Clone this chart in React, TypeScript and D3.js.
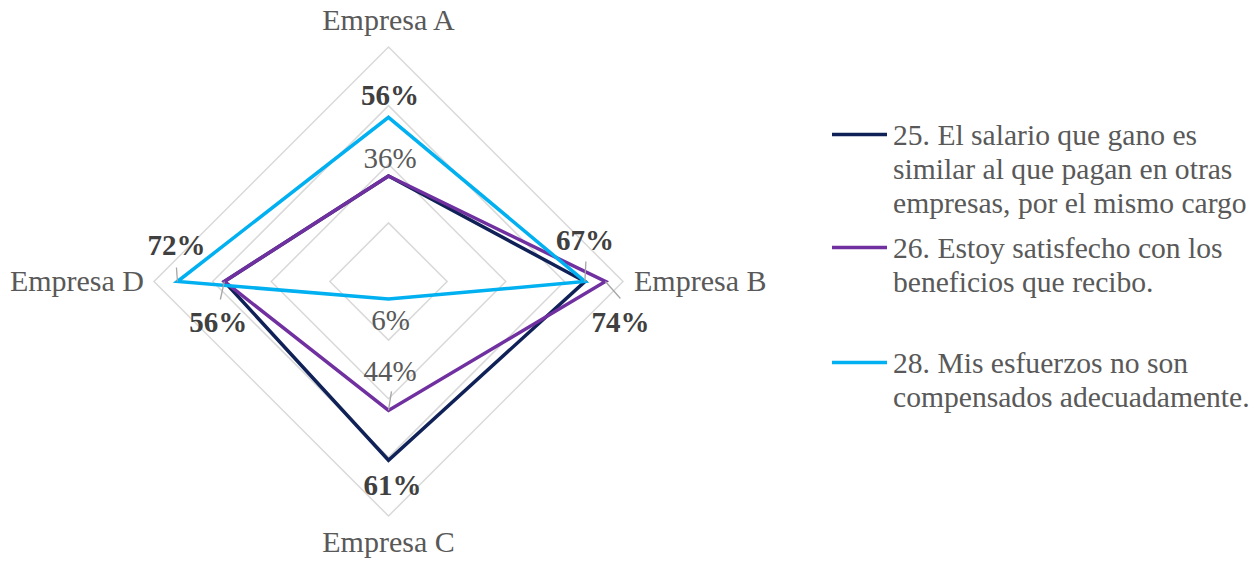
import React from "react";
import * as d3 from "d3";

// Axes of the radar, clockwise from the top
const categories = ["Empresa A", "Empresa B", "Empresa C", "Empresa D"];

// Series names (legend lines) and their values per company
const seriesNames = [
  ["25. El salario que gano es", "similar al que pagan en otras", "empresas, por el mismo cargo"],
  ["26. Estoy satisfecho con los", "beneficios que recibo."],
  ["28. Mis esfuerzos no son", "compensados adecuadamente."],
];
const salario = [0.36, 0.67, 0.61, 0.56];
const beneficios = [0.36, 0.74, 0.44, 0.56];
const esfuerzos = [0.56, 0.67, 0.06, 0.72];

const gridTicks = [0.2, 0.4, 0.6, 0.8];

// Which values carry a data label: [series, axis, bold]
const labelled: [number, number, boolean][] = [
  [0, 0, false],
  [0, 1, true],
  [0, 2, true],
  [0, 3, true],
  [1, 1, true],
  [1, 2, false],
  [2, 0, true],
  [2, 2, false],
  [2, 3, true],
];

// Placement of each label relative to its point: text offset and optional leader end
const labelPlacement: { dx: number; dy: number; leader?: [number, number] }[] = [
  { dx: 1.5, dy: -8 },
  { dx: 0, dy: -31.5, leader: [1, -20] },
  { dx: 4, dy: 35 },
  { dx: -6, dy: 50, leader: [-4, 18] },
  { dx: 15, dy: 50, leader: [15, 17] },
  { dx: 1.5, dy: -29, leader: [3, -19] },
  { dx: 1.5, dy: -12 },
  { dx: 2, dy: 31 },
  { dx: -1, dy: -26.5, leader: [-1, -14] },
];

const colors = ["#0f2157", "#7030a0", "#00b0f0"];

const W = 1258;
const H = 562;
const cx = 388.5;
const cy = 281.5;
const R = 234.5;
const FONT = "'Liberation Serif', 'Times New Roman', serif";

export default function App() {
  const series = [salario, beneficios, esfuerzos];
  const r = d3.scaleLinear().domain([0, 0.8]).range([0, R]);
  const angle = d3
    .scalePoint<string>()
    .domain(categories)
    .range([0, 2 * Math.PI * (categories.length - 1) / categories.length]);

  const radial = d3
    .lineRadial<number>()
    .angle((_, i) => angle(categories[i]) as number)
    .radius((d) => r(d))
    .curve(d3.curveLinearClosed);

  const pt = (v: number, i: number): [number, number] => {
    const a = (angle(categories[i]) as number) - Math.PI / 2;
    return [cx + r(v) * Math.cos(a), cy + r(v) * Math.sin(a)];
  };

  const fmt = d3.format(".0%");

  // category label anchors
  const catPos: { x: number; y: number; anchor: string }[] = [
    { x: cx, y: cy - R - 17, anchor: "middle" },
    { x: cx + R + 11, y: cy + 9.5, anchor: "start" },
    { x: cx, y: cy + R + 36, anchor: "middle" },
    { x: cx - R - 10, y: cy + 9.5, anchor: "end" },
  ];

  const legendX = 832;
  const legendTextX = 893;
  const lineH = 34;
  const legendTops = [145, 258, 373];

  return (
    <svg
      width={W}
      height={H}
      style={{ position: "absolute", left: 0, top: 0, background: "#fff" }}
      fontFamily={FONT}
    >
      {/* grid rings */}
      <g transform={`translate(${cx},${cy})`}>
        {gridTicks.map((t) => (
          <path
            key={t}
            d={radial(categories.map(() => t)) || ""}
            fill="none"
            stroke="#d9d9d9"
            strokeWidth={1.5}
          />
        ))}
      </g>

      {/* series polygons */}
      <g transform={`translate(${cx},${cy})`}>
        {series.map((s, k) => (
          <path
            key={k}
            d={radial(s) || ""}
            fill="none"
            stroke={colors[k]}
            strokeWidth={3.5}
            strokeLinejoin="miter"
          />
        ))}
      </g>

      {/* data labels */}
      <g>
        {labelled.map(([si, ai, bold], j) => {
          const v = series[si][ai];
          const [px, py] = pt(v, ai);
          const p = labelPlacement[j];
          return (
            <g key={j}>
              {p.leader && (
                <line
                  x1={px}
                  y1={py}
                  x2={px + p.leader[0]}
                  y2={py + p.leader[1]}
                  stroke="#a6a6a6"
                  strokeWidth={1.3}
                />
              )}
              <text
                x={px + p.dx}
                y={py + p.dy}
                textAnchor="middle"
                fontSize={29}
                fontWeight={bold ? "bold" : "normal"}
                fill={bold ? "#404040" : "#595959"}
              >
                {fmt(v)}
              </text>
            </g>
          );
        })}
      </g>

      {/* category labels */}
      {categories.map((c, i) => (
        <text
          key={c}
          x={catPos[i].x}
          y={catPos[i].y}
          textAnchor={catPos[i].anchor as any}
          fontSize={30}
          fill="#595959"
        >
          {c}
        </text>
      ))}

      {/* legend */}
      {seriesNames.map((lines, k) => (
        <g key={k}>
          <line
            x1={legendX}
            x2={legendX + 55}
            y1={legendTops[k] - 10.5}
            y2={legendTops[k] - 10.5}
            stroke={colors[k]}
            strokeWidth={3.5}
          />
          <text fontSize={29.6} fill="#595959">
            {lines.map((ln, li) => (
              <tspan key={li} x={legendTextX} y={legendTops[k] + li * lineH}>
                {ln}
              </tspan>
            ))}
          </text>
        </g>
      ))}
    </svg>
  );
}
